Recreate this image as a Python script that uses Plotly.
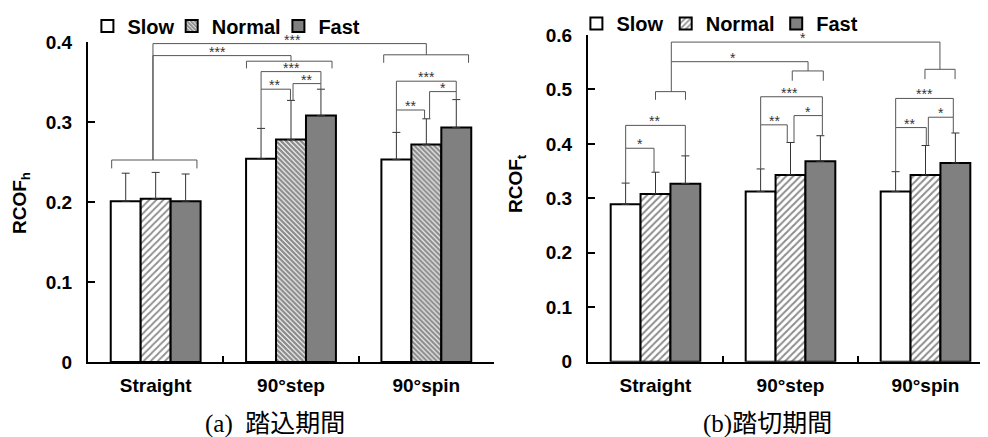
import plotly.graph_objects as go

categories = ["Straight", "90°step", "90°spin"]
speeds = ["Slow", "Normal", "Fast"]

# (a) 踏込期間  RCOF_h
slow_mean_a = [0.201, 0.254, 0.253]
normal_mean_a = [0.204, 0.278, 0.272]
fast_mean_a = [0.201, 0.308, 0.293]
slow_sd_a = [0.035, 0.038, 0.034]
normal_sd_a = [0.033, 0.049, 0.032]
fast_sd_a = [0.034, 0.033, 0.035]

# (b) 踏切期間  RCOF_t
slow_mean_b = [0.289, 0.3125, 0.3125]
normal_mean_b = [0.308, 0.343, 0.343]
fast_mean_b = [0.327, 0.368, 0.365]
slow_sd_b = [0.039, 0.0415, 0.0365]
normal_sd_b = [0.040, 0.0596, 0.054]
fast_sd_b = [0.051, 0.047, 0.055]

y_ticks_a = [0, 0.1, 0.2, 0.3, 0.4]
y_ticks_b = [0, 0.1, 0.2, 0.3, 0.4, 0.5, 0.6]

# significance brackets: (x_left, x_right, y_bar, y_left_end, y_right_end, label, label_x)
brackets_a = [
    (-0.02, 2.0, 0.398, 0.2525, 0.384, "***", 1.01),
    (-0.02, 1.0, 0.383, 0.2525, 0.376, "***", 0.46),
    (-0.325, 0.305, 0.2525, 0.242, 0.242, "", 0),
    (0.671, 1.303, 0.376, 0.367, 0.367, "", 0),
    (1.685, 2.312, 0.384, 0.374, 0.374, "", 0),
    (0.779, 1.221, 0.363, 0.341, 0.348, "***", 1.005),
    (0.779, 0.996, 0.341, 0.292, 0.327, "**", 0.88),
    (1.015, 1.221, 0.348, 0.327, 0.341, "**", 1.116),
    (1.779, 2.221, 0.351, 0.315, 0.338, "***", 2.0),
    (1.779, 1.987, 0.315, 0.287, 0.304, "**", 1.88),
    (2.024, 2.221, 0.338, 0.304, 0.3275, "*", 2.12),
]
brackets_b = [
    (0.117, 2.107, 0.587, 0.551, 0.537, "*", 1.095),
    (0.117, 1.13, 0.551, 0.496, 0.534, "*", 0.576),
    (0.0, 0.222, 0.496, 0.481, 0.481, "", 0),
    (1.013, 1.243, 0.534, 0.516, 0.516, "", 0),
    (1.996, 2.219, 0.537, 0.519, 0.519, "", 0),
    (-0.221, 0.221, 0.434, 0.392, 0.378, "**", -0.004),
    (-0.221, -0.011, 0.392, 0.328, 0.348, "*", -0.115),
    (0.779, 1.236, 0.4866, 0.435, 0.452, "***", 0.989),
    (0.779, 0.976, 0.435, 0.354, 0.4026, "**", 0.885),
    (1.026, 1.236, 0.452, 0.4026, 0.415, "*", 1.13),
    (1.779, 2.206, 0.4835, 0.430, 0.449, "***", 1.989),
    (1.779, 2.006, 0.430, 0.349, 0.397, "**", 1.885),
    (2.021, 2.206, 0.449, 0.397, 0.42, "*", 2.113),
]

OFF = 8                      # page body margin of the browser
W, H = 988 - OFF, 437 - OFF  # figure size so that it fills the window


def px(xr):                  # screen x -> paper x
    return (xr - OFF) / W


def py(yr):                  # screen y -> paper y
    return 1 - (yr - OFF) / H


FONT = "Liberation Sans, Arial, sans-serif"
SERIF = "Liberation Serif, Noto Sans CJK JP"
xs = list(range(len(categories)))

fig = go.Figure()


def add_panel(means, sds, xa, ya, legends, straight_shape, other_shape, sizes, sols):
    fills = ["white", "white", "#808080"]
    for i, name in enumerate(speeds):
        base = dict(color=fills[i], line=dict(color="black", width=2))
        err = dict(type="data", symmetric=False, color="#333333", thickness=1, width=4)
        if name == "Normal":
            # straight bar and turning bars use different hatches
            parts = [([0], straight_shape, sizes[0], sols[0], False),
                     ([1, 2], other_shape, sizes[1], sols[1], True)]
            for idx, shp, sz, so, leg in parts:
                mk = dict(base, pattern=dict(shape=shp, fgcolor="#1a1a1a", bgcolor="white",
                                             size=sz, solidity=so, fillmode="overlay"))
                fig.add_trace(go.Bar(
                    x=[xs[k] for k in idx], y=[means[i][k] for k in idx], name=name,
                    marker=mk, xaxis=xa, yaxis=ya, legend=legends[i], showlegend=leg,
                    offsetgroup=name,
                    error_y=dict(err, array=[sds[i][k] for k in idx],
                                 arrayminus=[0] * len(idx)),
                ))
        else:
            fig.add_trace(go.Bar(
                x=xs, y=means[i], name=name, marker=base,
                xaxis=xa, yaxis=ya, legend=legends[i], offsetgroup=name,
                error_y=dict(err, array=sds[i], arrayminus=[0] * 3),
            ))


add_panel([slow_mean_a, normal_mean_a, fast_mean_a],
          [slow_sd_a, normal_sd_a, fast_sd_a], "x", "y",
          ["legend", "legend2", "legend3"], "/", "\\", [5, 3.5], [0.35, 0.7])
add_panel([slow_mean_b, normal_mean_b, fast_mean_b],
          [slow_sd_b, normal_sd_b, fast_sd_b], "x2", "y2",
          ["legend4", "legend5", "legend6"], "/", "/", [5, 5], [0.4, 0.4])

shapes = []
annotations = []
for brs, xr, yr in [(brackets_a, "x", "y"), (brackets_b, "x2", "y2")]:
    for x1, x2, yb, y1e, y2e, lab, lx in brs:
        shapes.append(dict(type="path", xref=xr, yref=yr,
                           path=f"M {x1},{y1e} L {x1},{yb} L {x2},{yb} L {x2},{y2e}",
                           line=dict(color="#555555", width=1)))
        if lab:
            annotations.append(dict(x=lx, y=yb, xref=xr, yref=yr, text=lab,
                                    showarrow=False, xanchor="center", yanchor="bottom",
                                    yshift=-6,
                                    font=dict(family=FONT, size=14, color="#333333")))

# y-axis titles
annotations.append(dict(x=px(21), y=py(203), xref="paper", yref="paper",
                        xanchor="center", yanchor="middle",
                        text="<b>RCOF<sub>h</sub></b>", textangle=-90, showarrow=False,
                        font=dict(family=FONT, size=19, color="black")))
annotations.append(dict(x=px(517), y=py(184), xref="paper", yref="paper",
                        xanchor="center", yanchor="middle",
                        text="<b>RCOF<sub>t</sub></b>", textangle=-90, showarrow=False,
                        font=dict(family=FONT, size=19, color="black")))
# captions
annotations.append(dict(x=px(275), y=py(424), xref="paper", yref="paper",
                        xanchor="center", yanchor="middle",
                        text="(a)  踏込期間", showarrow=False,
                        font=dict(family=SERIF, size=25, color="black")))
annotations.append(dict(x=px(767.5), y=py(424), xref="paper", yref="paper",
                        xanchor="center", yanchor="middle",
                        text="(b)踏切期間", showarrow=False,
                        font=dict(family=SERIF, size=25, color="black")))

tickfont = dict(family=FONT, size=19, color="black", weight="bold")


def xaxis_cfg(dom, rng, anchor):
    return dict(domain=dom, range=rng, tickvals=xs, ticktext=categories,
                ticks="", showline=True, linecolor="black", linewidth=2,
                showgrid=False, zeroline=False, tickfont=tickfont, anchor=anchor,
                ticklabelstandoff=5, automargin=False,
                minor=dict(tickvals=[0.5, 1.5], ticks="inside", ticklen=6,
                           tickcolor="black", tickwidth=2))


def yaxis_cfg(dom, rng, tv, anchor):
    return dict(domain=dom, range=rng, tickvals=tv, ticktext=[f"{v:g}" for v in tv],
                ticks="inside", ticklen=7, tickwidth=2, tickcolor="black",
                showline=True, linecolor="black", linewidth=2, showgrid=False,
                zeroline=False, tickfont=tickfont, anchor=anchor,
                ticklabelstandoff=10, automargin=False)


legend_common = dict(orientation="h", xanchor="left", yanchor="middle",
                     font=dict(family=FONT, size=20, color="black", weight="bold"),
                     bgcolor="rgba(0,0,0,0)", itemwidth=30, tracegroupgap=0,
                     itemclick=False, itemdoubleclick=False)
legend_x = [87.4, 171.7, 278.4, 576.4, 665.7, 776.2]
legend_y = [26, 26, 26, 23.5, 23.5, 23.5]
legends = {}
for k, (lx, ly) in enumerate(zip(legend_x, legend_y)):
    key = "legend" if k == 0 else f"legend{k + 1}"
    legends[key] = legend_common | dict(x=px(lx), y=py(ly))

fig.update_layout(
    width=W, height=H,
    margin=dict(l=0, r=0, t=0, b=0, autoexpand=False),
    paper_bgcolor="white", plot_bgcolor="white",
    barmode="group", bargap=0.336, bargroupgap=0,
    showlegend=True,
    xaxis=xaxis_cfg([px(88), px(494)], [-0.5, 2.5], "y"),
    yaxis=yaxis_cfg([py(362), py(42)], [0, 0.4], y_ticks_a, "x"),
    xaxis2=xaxis_cfg([px(588), 1.0], [-0.5, (988 - 588) / 135 - 0.5], "y2"),
    yaxis2=yaxis_cfg([py(361.7), py(35)], [0, 0.6], y_ticks_b, "x2"),
    shapes=shapes, annotations=annotations,
    **legends,
)

fig.write_html("out.html")
